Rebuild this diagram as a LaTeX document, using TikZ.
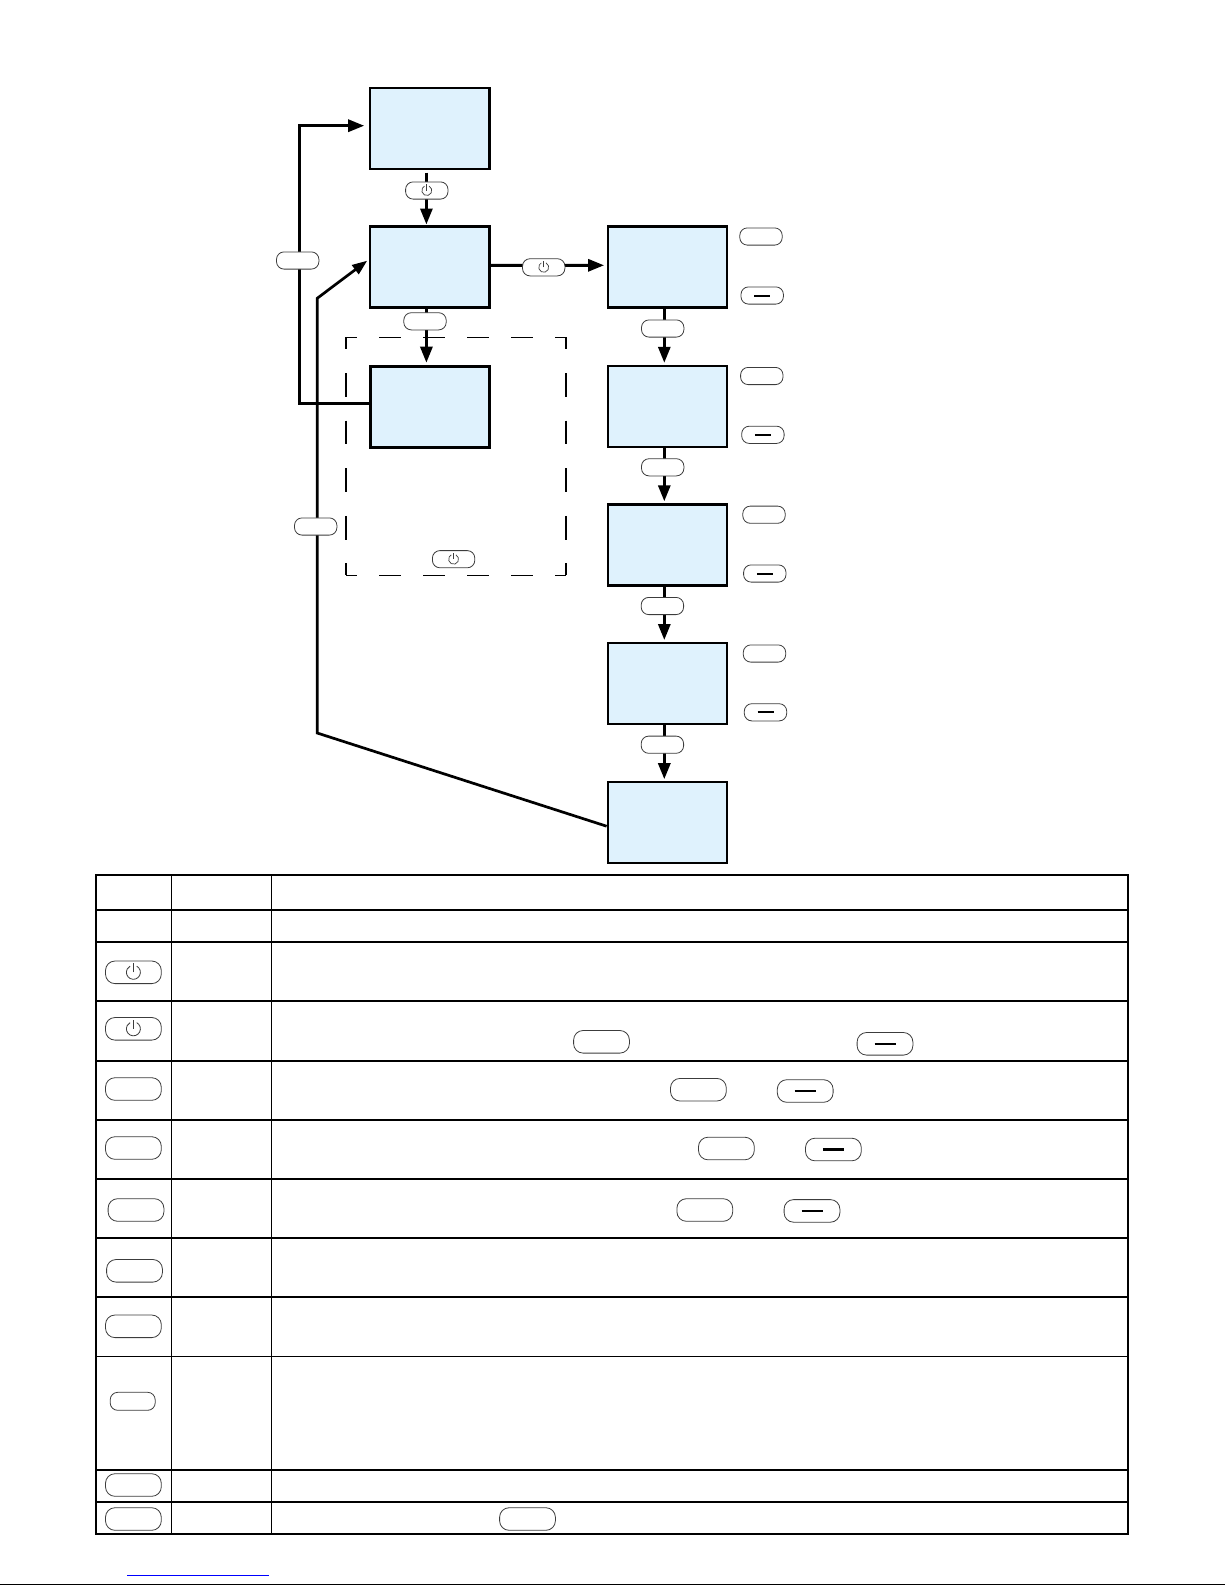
\documentclass[tikz,border=0pt]{standalone}
\usetikzlibrary{arrows.meta}
\definecolor{panelblue}{RGB}{223,242,253}
\definecolor{btnline}{RGB}{60,60,60}
\tikzset{
  panel/.style={draw=black,fill=panelblue,line width=2.4pt,inner sep=0pt,minimum width=119.4pt,minimum height=81pt},
  flow/.style={line width=3pt,black,-{Triangle[length=16pt,width=12pt]}},
  flowthin/.style={line width=2.7pt,black,-{Triangle[length=15pt,width=11pt]}},
  btn/.style={draw=btnline,fill=white,line width=0.8pt,inner sep=0pt,rounded corners=7.5pt,minimum width=42.4pt,minimum height=17.2pt},
  bigbtn/.style={btn,rounded corners=9.5pt,minimum width=55.8pt,minimum height=22.6pt},
  smallmark/.style={path picture={
    \draw[line width=0.7pt,btnline] (path picture bounding box.center) ++(-62:5) arc (-62:242:5);
    \draw[line width=0.7pt,btnline] (path picture bounding box.center) -- ++(0,-6.5);}},
  bigmark/.style={path picture={
    \draw[line width=0.8pt,btnline] (path picture bounding box.center) ++(-62:7) arc (-62:242:7);
    \draw[line width=0.8pt,btnline] (path picture bounding box.center) -- ++(0,-9);}},
  smallbar/.style={path picture={
    \draw[line width=2pt,black] (path picture bounding box.center) ++(-8,0) -- ++(16,0);}},
  bigbar/.style={path picture={
    \draw[line width=1.4pt,black] (path picture bounding box.center) ++(-10.5,0) -- ++(21,0);}},
  boldbar/.style={path picture={
    \draw[line width=2.4pt,black] (path picture bounding box.center) ++(-10.5,0) -- ++(21,0);}},
  dashwide/.style={line width=1.3pt,dash pattern=on 22pt off 22pt,dash phase=11pt},
  dashtall/.style={line width=1.3pt,dash pattern=on 23.8pt off 23.8pt,dash phase=11.9pt},
  rowline/.style={line width=2pt,black},
  rowthin/.style={line width=1pt,black}
}
\begin{document}
\begin{tikzpicture}[x=1pt,y=-1pt]
        \useasboundingbox (0,0) rectangle (1225,1585);
        %panels
        \draw (429.7,128.5) node [panel] (boxa) {};
        \draw (429.7,266.9) node [panel] (boxb) {};
        \draw (430,406.7) node [panel,line width=3pt] (boxc) {};
        \draw (667.5,267) node [panel] (boxd) {};
        \draw (667.5,406.2) node [panel] (boxe) {};
        \draw (667.5,545) node [panel] (boxf) {};
        \draw (667.5,683.4) node [panel] (boxg) {};
        \draw (667.5,822.2) node [panel] (boxh) {};
        %axes and corners
        \coordinate (axisl) at (426.4,0);
        \coordinate (axisr) at (664.3,0);
        \coordinate (loopa) at (299,125.7);
        \coordinate (loopb) at (317.2,733);
        \coordinate (loopc) at (317.2,298.3);
        \coordinate (dashnw) at (346,337.3);
        \coordinate (dashne) at (566,337.3);
        \coordinate (dashsw) at (346,575.3);
        \coordinate (dashse) at (566,575.3);
        %dashed frame
        \draw[dashwide] (dashnw) -- (dashne);
        \draw[dashwide] (dashsw) -- (dashse);
        \draw[dashtall] (dashnw) -- (dashsw);
        \draw[dashtall] (dashne) -- (dashse);
        %connectors
        \draw[flow,shorten <=2.5pt,shorten >=0.7pt] (boxa.south -| axisl) -- (boxb.north -| axisl);
        \draw[flow,shorten >=2pt] (boxb.south -| axisl) -- (boxc.north -| axisl);
        \draw[flow,shorten >=2.5pt] ([yshift=1.6pt]boxb.east) -- ([yshift=1.7pt]boxd.west);
        \draw[flow,shorten >=1.7pt] (boxd.south -| axisr) -- (boxe.north -| axisr);
        \draw[flow,shorten >=2pt] (boxe.south -| axisr) -- (boxf.north -| axisr);
        \draw[flow,shorten >=1.7pt] (boxf.south -| axisr) -- (boxg.north -| axisr);
        \draw[flow,shorten >=1.3pt] (boxg.south -| axisr) -- (boxh.north -| axisr);
        \draw[flow] ([yshift=3pt]boxc.west) -| (loopa) -- ([xshift=-4.6pt,yshift=2.8pt]boxa.west);
        \draw[flowthin] ([yshift=-4pt]boxh.west) -- (loopb) -- (loopc) -- ([xshift=-1.6pt,yshift=6.2pt]boxb.west);
        %buttons on connectors
        \draw (426.8,190.5) node [btn,smallmark] (keya) {};
        \draw (425,321.3) node [btn] (keyb) {};
        \draw (543.7,267.3) node [btn,smallmark] (keyc) {};
        \draw (662.7,328.5) node [btn] (keyd) {};
        \draw (662.7,467.3) node [btn] (keye) {};
        \draw (662.4,606) node [btn] (keyf) {};
        \draw (662.4,744.7) node [btn] (keyg) {};
        \draw (297.7,260.5) node [btn] (keyh) {};
        \draw (315.7,526.5) node [btn] (keyi) {};
        \draw (453.6,559.2) node [btn,smallmark] (keyj) {};
        %buttons beside panels
        \draw (761,236.5) node [btn] (sidea) {};
        \draw (762.2,295.5) node [btn,smallbar] (sideb) {};
        \draw (761.8,376) node [btn] (sidec) {};
        \draw (762.9,434.8) node [btn,smallbar] (sided) {};
        \draw (764,514.7) node [btn] (sidee) {};
        \draw (764.8,573.5) node [btn,smallbar] (sidef) {};
        \draw (764.5,653.5) node [btn] (sideg) {};
        \draw (765.5,712.3) node [btn,smallbar] (sideh) {};
        %table
        \draw[line width=2.4pt] (95.7,875) rectangle (1128,1533.7);
        \draw[rowthin] (171.5,875) -- (171.5,1533.7);
        \draw[line width=1.5pt] (271.3,875) -- (271.3,1533.7);
        \draw[rowline] (95.7,910) -- (1128,910);
        \draw[rowline] (95.7,942) -- (1128,942);
        \draw[rowline] (95.7,1001) -- (1128,1001);
        \draw[rowline] (95.7,1061) -- (1128,1061);
        \draw[rowline] (95.7,1119.7) -- (1128,1119.7);
        \draw[rowline] (95.7,1179) -- (1128,1179);
        \draw[rowline] (95.7,1237.7) -- (1128,1237.7);
        \draw[rowline] (95.7,1296.7) -- (1128,1296.7);
        \draw[rowthin] (95.7,1356.3) -- (1128,1356.3);
        \draw[rowline] (95.7,1469.7) -- (1128,1469.7);
        \draw[rowline] (95.7,1502) -- (1128,1502);
        %buttons in first column
        \draw (133.4,972.3) node [bigbtn,bigmark] (rowa) {};
        \draw (133.4,1028.8) node [bigbtn,bigmark] (rowb) {};
        \draw (133.4,1089) node [bigbtn] (rowc) {};
        \draw (133.4,1148) node [bigbtn] (rowd) {};
        \draw (136,1210) node [bigbtn] (rowe) {};
        \draw (134.5,1270.8) node [bigbtn] (rowf) {};
        \draw (133.4,1326.3) node [bigbtn] (rowg) {};
        \draw (132.7,1401.3) node [btn,minimum width=45pt,minimum height=18pt] (rowh) {};
        \draw (133.4,1485) node [bigbtn] (rowi) {};
        \draw (133.4,1519) node [bigbtn] (rowj) {};
        %buttons in last column
        \draw (601.5,1041.8) node [bigbtn] (texta) {};
        \draw (885,1043.8) node [bigbtn,bigbar] (textb) {};
        \draw (698.4,1089.7) node [bigbtn] (textc) {};
        \draw (805.2,1091) node [bigbtn,bigbar] (textd) {};
        \draw (726.4,1148.5) node [bigbtn] (texte) {};
        \draw (833.4,1149.5) node [bigbtn,boldbar] (textf) {};
        \draw (704.8,1210) node [bigbtn] (textg) {};
        \draw (812,1210.9) node [bigbtn,bigbar] (texth) {};
        \draw (527.5,1519) node [bigbtn] (texti) {};
        %foot of page
        \draw[line width=1pt,blue] (127,1575.7) -- (269,1575.7);
        \draw[line width=1pt,black] (0,1584.5) -- (1225,1584.5);
    \end{tikzpicture}
\end{document}
